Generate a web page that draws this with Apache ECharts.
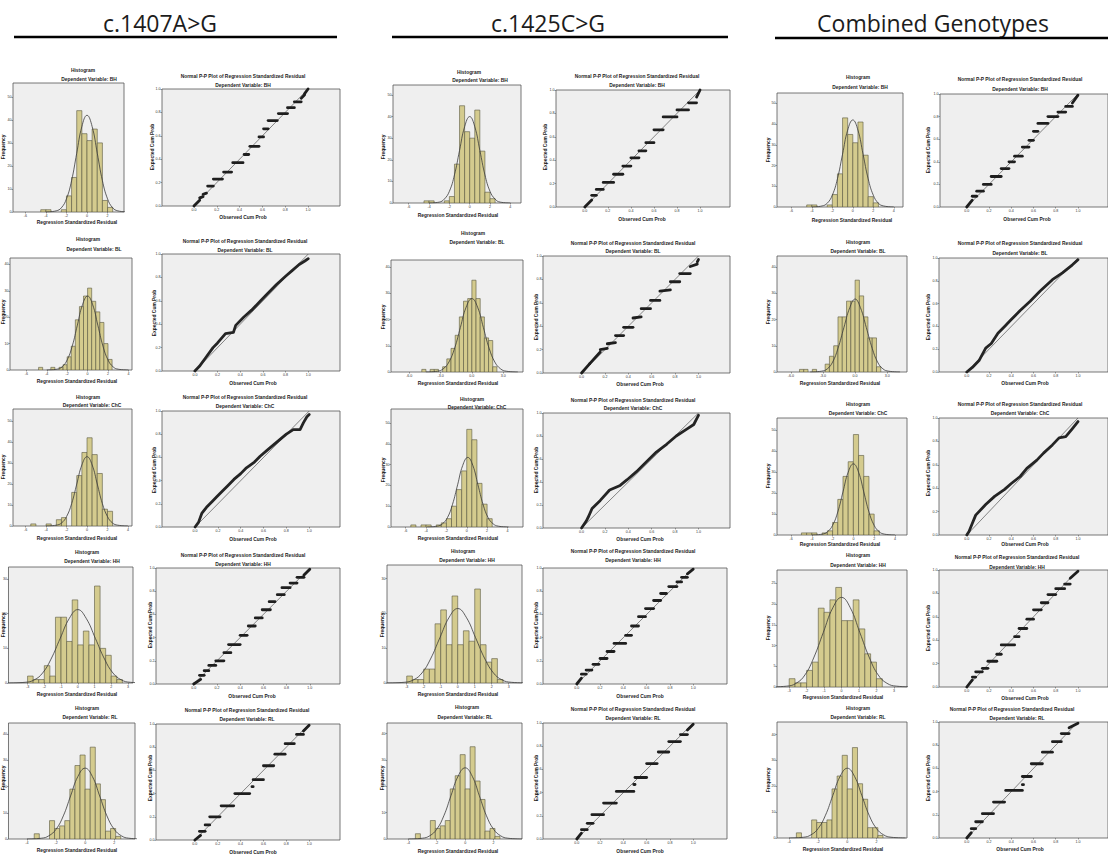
<!DOCTYPE html>
<html><head><meta charset="utf-8">
<script src="https://cdn.jsdelivr.net/npm/echarts@6/dist/echarts.min.js"></script>
<style>html,body{margin:0;padding:0;background:#fff}#c{width:1108px;height:857px}</style>
</head><body><div id="c"></div>
<script>
// ---------------- DATA ----------------
const headers = ['c.1407A>G', 'c.1425C>G', 'Combined Genotypes'];
const dvNames = ['BH', 'BL', 'ChC', 'HH', 'RL'];

// tick label sets
const resTicksA = [-6, -4, -2, 0, 2, 4];
const resTicksB = [-6, -3, 0, 3];
const resTicksC = [-3, -2, -1, 0, 1, 2, 3];
const resTicksD = [-4, -2, 0, 2];
const freqTicks50 = [0, 10, 20, 30, 40, 50];
const freqTicks40 = [0, 10, 20, 30, 40];
const freqTicks30 = [0, 10, 20, 30];
const freqTicks25 = [0, 5, 10, 15, 20, 25];
const probTicks = [0, 0.2, 0.4, 0.6, 0.8, 1.0];

// histogram bins: first bin edge, bin width, counts
const c1BHStart = -4.5, c1BHWidth = 0.5;
const c1BHCounts = [1, 1, 0, 0, 1, 7, 15, 44, 34, 31, 36, 30, 5, 2];
const c1BLStart = -4.8, c1BLWidth = 0.4;
const c1BLCounts = [1, 0, 0, 1, 0, 1, 2, 5, 9, 19, 24, 28, 31, 26, 22, 18, 10, 4];
const c1ChCStart = -5.5, c1ChCWidth = 0.5;
const c1ChCCounts = [1, 0, 0, 1, 0, 3, 4, 0, 16, 24, 35, 42, 34, 25, 8, 7];
const c1HHStart = -3, c1HHWidth = 0.3333;
const c1HHCounts = [2, 1, 1, 5, 2, 19, 19, 12, 24, 11, 15, 11, 28, 10, 8, 2, 1];
const c1RLStart = -3.5, c1RLWidth = 0.35;
const c1RLCounts = [2, 0, 0, 7, 4, 5, 7, 19, 28, 32, 19, 35, 21, 15, 3, 4, 1];

const c2BHStart = -4.5, c2BHWidth = 0.5;
const c2BHCounts = [1, 1, 0, 0, 1, 3, 18, 45, 33, 30, 43, 24, 5, 2];
const c2BLStart = -4.8, c2BLWidth = 0.4;
const c2BLCounts = [1, 0, 1, 1, 0, 2, 5, 9, 14, 21, 27, 28, 35, 28, 21, 13, 12, 2];
const c2ChCStart = -5.5, c2ChCWidth = 0.5;
const c2ChCCounts = [1, 0, 1, 1, 0, 1, 2, 4, 10, 18, 27, 47, 42, 21, 11, 4];
const c2HHStart = -3, c2HHWidth = 0.3333;
const c2HHCounts = [2, 1, 1, 4, 4, 17, 21, 11, 25, 11, 15, 12, 27, 11, 6, 7, 1];
const c2RLStart = -3.5, c2RLWidth = 0.35;
const c2RLCounts = [2, 0, 0, 7, 4, 5, 7, 19, 24, 32, 19, 35, 22, 15, 3, 4, 1];

const c3BHStart = -4.5, c3BHWidth = 0.5;
const c3BHCounts = [1, 1, 0, 0, 1, 6, 16, 43, 35, 31, 41, 25, 5, 2];
const c3BLStart = -5.2, c3BLWidth = 0.4;
const c3BLCounts = [1, 1, 0, 1, 0, 0, 3, 6, 10, 21, 21, 27, 27, 35, 29, 21, 13, 13, 2];
const c3ChCStart = -5, c3ChCWidth = 0.5;
const c3ChCCounts = [1, 1, 1, 0, 1, 2, 6, 17, 28, 35, 48, 38, 28, 10, 2];
const c3HHStart = -3, c3HHWidth = 0.3333;
const c3HHCounts = [2, 1, 1, 4, 6, 19, 18, 21, 24, 16, 16, 21, 14, 8, 6, 2];
const c3RLStart = -3.5, c3RLWidth = 0.35;
const c3RLCounts = [2, 0, 0, 7, 6, 6, 7, 19, 24, 32, 19, 35, 21, 15, 4, 4, 1];

// normal curve drawn over each histogram: x positions and heights
const curveX = [-4, -3, -2.5, -2, -1.5, -1, -0.5, 0, 0.5, 1, 1.5, 2, 2.5, 3, 4];
const curveXWide = [-4.2, -3.15, -2.6, -2.1, -1.6, -1.05, -0.5, 0, 0.5, 1.05, 1.6, 2.1, 2.6, 3.15, 4.2];
const curveXBL2 = [-4.4, -3.3, -2.75, -2.2, -1.65, -1.1, -0.55, 0, 0.55, 1.1, 1.65, 2.2, 2.75, 3.3, 4.4];
const curveXChC2 = [-3.9, -2.9, -2.4, -1.9, -1.4, -0.9, -0.4, 0.1, 0.6, 1.1, 1.6, 2.1, 2.6, 3.1, 4.1];
const c1BHCurve = [0, 0.5, 1.8, 5.7, 13.6, 25.5, 37.1, 42, 37.1, 25.5, 13.6, 5.7, 1.8, 0.5, 0];
const c1BLCurve = [0, 0.3, 1.2, 3.8, 9.1, 17, 24.7, 28, 24.7, 17, 9.1, 3.8, 1.2, 0.3, 0];
const c1ChCCurve = [0, 0.4, 1.4, 4.5, 10.7, 20, 29.1, 33, 29.1, 20, 10.7, 4.5, 1.4, 0.4, 0];
const c1HHCurve = [0, 0.2, 0.9, 2.9, 6.9, 12.9, 18.7, 21.2, 18.7, 12.9, 6.9, 2.9, 0.9, 0.2, 0];
const c1RLCurve = [0, 0.3, 1.2, 3.7, 8.8, 16.4, 23.8, 27, 23.8, 16.4, 8.8, 3.7, 1.2, 0.3, 0];
const c2BHCurve = [0, 0.4, 1.8, 5.4, 13, 24.3, 35.3, 40, 35.3, 24.3, 13, 5.4, 1.8, 0.4, 0];
const c2BLCurve = [0, 0.3, 1.2, 3.8, 9.1, 17, 24.7, 28, 24.7, 17, 9.1, 3.8, 1.2, 0.3, 0];
const c2ChCCurve = [0, 0.4, 1.5, 4.5, 10.9, 20.3, 29.6, 33.5, 29.6, 20.3, 10.9, 4.5, 1.5, 0.4, 0];
const c2HHCurve = [0, 0.2, 0.9, 2.9, 6.9, 13, 18.9, 21.4, 18.9, 13, 6.9, 2.9, 0.9, 0.2, 0];
const c2RLCurve = [0, 0.3, 1.2, 3.7, 8.8, 16.4, 23.8, 27, 23.8, 16.4, 8.8, 3.7, 1.2, 0.3, 0];
const c3BHCurve = [0, 0.5, 1.8, 5.7, 13.6, 25.5, 37.1, 42, 37.1, 25.5, 13.6, 5.7, 1.8, 0.5, 0];
const c3BLCurve = [0, 0.3, 1.2, 3.8, 9, 16.9, 24.5, 27.8, 24.5, 16.9, 9, 3.8, 1.2, 0.3, 0];
const c3ChCCurve = [0, 0.4, 1.5, 4.6, 11, 20.6, 30, 34, 30, 20.6, 11, 4.6, 1.5, 0.4, 0];
const c3HHCurve = [0, 0.2, 0.9, 2.9, 7, 13.1, 19.1, 21.6, 19.1, 13.1, 7, 2.9, 0.9, 0.2, 0];
const c3RLCurve = [0, 0.3, 1.2, 3.7, 8.8, 16.4, 23.8, 27, 23.8, 16.4, 8.8, 3.7, 1.2, 0.3, 0];

// P-P plots: runs of tied points [obsStart, expStart, obsEnd, expEnd]
const c1BHPP = [[0,0,0.05,0.05],[0.05,0.07,0.08,0.08],[0.08,0.1,0.11,0.11],[0.12,0.17,0.17,0.17],[0.17,0.23,0.25,0.23],[0.26,0.29,0.33,0.29],[0.34,0.37,0.43,0.37],[0.44,0.44,0.48,0.44],[0.49,0.51,0.57,0.51],[0.57,0.59,0.61,0.59],[0.61,0.66,0.65,0.66],[0.65,0.73,0.73,0.73],[0.74,0.79,0.82,0.79],[0.82,0.84,0.88,0.84],[0.88,0.89,0.94,0.89],[0.94,0.92,0.97,0.95],[0.97,0.96,1.0,1.0]];
const c1HHPP = [[0,0,0.06,0.04],[0.05,0.075,0.09,0.075],[0.09,0.115,0.13,0.115],[0.13,0.16,0.19,0.16],[0.19,0.2,0.26,0.2],[0.26,0.27,0.32,0.27],[0.3,0.34,0.4,0.34],[0.4,0.42,0.46,0.42],[0.47,0.5,0.53,0.5],[0.53,0.57,0.59,0.57],[0.59,0.64,0.66,0.64],[0.65,0.71,0.7,0.71],[0.72,0.77,0.78,0.77],[0.76,0.83,0.83,0.83],[0.83,0.87,0.89,0.87],[0.89,0.92,0.95,0.92],[0.95,0.94,1.0,0.99]];
const c1RLPP = [[0,0,0.05,0.04],[0.04,0.075,0.09,0.075],[0.09,0.13,0.13,0.13],[0.13,0.2,0.22,0.2],[0.23,0.295,0.34,0.295],[0.35,0.4,0.48,0.4],[0.5,0.46,0.51,0.46],[0.51,0.52,0.6,0.52],[0.6,0.64,0.69,0.64],[0.7,0.74,0.79,0.74],[0.79,0.83,0.87,0.83],[0.89,0.91,0.95,0.91],[0.95,0.94,1.0,0.99]];
const c2BHPP = [[0,0,0.06,0.06],[0.06,0.1,0.1,0.1],[0.1,0.15,0.16,0.15],[0.16,0.21,0.25,0.21],[0.25,0.28,0.33,0.28],[0.33,0.35,0.4,0.35],[0.4,0.42,0.47,0.42],[0.47,0.48,0.53,0.48],[0.53,0.55,0.6,0.55],[0.6,0.66,0.68,0.66],[0.68,0.77,0.8,0.77],[0.8,0.83,0.9,0.83],[0.9,0.89,0.97,0.89],[0.97,0.94,1.0,1.0]];
const c2BLPP = [[0,0,0.07,0.08],[0.07,0.08,0.16,0.18],[0.16,0.2,0.22,0.21],[0.22,0.25,0.29,0.26],[0.29,0.32,0.36,0.32],[0.36,0.39,0.44,0.39],[0.44,0.47,0.51,0.48],[0.51,0.55,0.59,0.55],[0.59,0.62,0.67,0.62],[0.67,0.7,0.76,0.71],[0.76,0.78,0.84,0.78],[0.84,0.85,0.93,0.85],[0.93,0.91,0.99,0.93],[0.99,0.95,1.0,0.97]];
const c2HHPP = [[0,0,0.04,0.05],[0.04,0.085,0.08,0.085],[0.08,0.12,0.13,0.12],[0.14,0.17,0.19,0.17],[0.2,0.22,0.26,0.22],[0.26,0.28,0.32,0.28],[0.32,0.35,0.42,0.35],[0.42,0.42,0.47,0.42],[0.47,0.5,0.53,0.5],[0.53,0.58,0.59,0.58],[0.59,0.65,0.66,0.65],[0.66,0.72,0.72,0.72],[0.72,0.78,0.77,0.78],[0.79,0.84,0.86,0.84],[0.86,0.88,0.9,0.88],[0.9,0.92,0.95,0.92],[0.95,0.95,1.0,0.99]];
const c2RLPP = [[0,0,0.04,0.05],[0.04,0.08,0.09,0.08],[0.09,0.135,0.14,0.135],[0.13,0.21,0.23,0.21],[0.23,0.31,0.34,0.31],[0.34,0.41,0.49,0.41],[0.49,0.47,0.5,0.47],[0.5,0.53,0.6,0.53],[0.6,0.65,0.69,0.65],[0.7,0.75,0.79,0.75],[0.79,0.84,0.89,0.84],[0.89,0.9,0.95,0.9],[0.95,0.94,1.0,0.99]];
const c3BHPP = [[0,0,0.05,0.06],[0.05,0.095,0.09,0.095],[0.09,0.14,0.15,0.14],[0.15,0.2,0.22,0.2],[0.22,0.27,0.31,0.27],[0.31,0.34,0.38,0.34],[0.38,0.4,0.43,0.4],[0.43,0.45,0.5,0.45],[0.5,0.53,0.56,0.53],[0.56,0.59,0.6,0.59],[0.6,0.67,0.64,0.67],[0.64,0.74,0.73,0.74],[0.73,0.8,0.82,0.8],[0.82,0.84,0.89,0.84],[0.89,0.89,0.95,0.89],[0.95,0.92,1.0,0.99]];
const c3HHPP = [[0,0,0.05,0.06],[0.05,0.085,0.08,0.085],[0.08,0.13,0.14,0.13],[0.14,0.16,0.19,0.16],[0.19,0.22,0.27,0.22],[0.27,0.28,0.31,0.28],[0.31,0.36,0.43,0.36],[0.43,0.43,0.47,0.43],[0.47,0.5,0.54,0.5],[0.54,0.58,0.6,0.58],[0.6,0.66,0.67,0.66],[0.67,0.72,0.73,0.72],[0.73,0.79,0.8,0.79],[0.8,0.84,0.88,0.84],[0.88,0.88,0.93,0.88],[0.93,0.93,1.0,0.99]];
const c3RLPP = [[0,0,0.04,0.045],[0.04,0.08,0.08,0.08],[0.08,0.14,0.14,0.14],[0.14,0.21,0.24,0.21],[0.24,0.31,0.34,0.31],[0.35,0.41,0.5,0.41],[0.5,0.46,0.51,0.46],[0.5,0.53,0.58,0.53],[0.58,0.64,0.68,0.64],[0.68,0.74,0.77,0.74],[0.77,0.83,0.85,0.83],[0.85,0.9,0.92,0.9],[0.92,0.95,1.0,0.99]];
// P-P plots with a continuous point cloud: points along the cloud [obs, exp]
const c1BLPath = [[0,0],[0.04,0.04],[0.1,0.12],[0.16,0.2],[0.2,0.24],[0.27,0.32],[0.34,0.33],[0.36,0.39],[0.43,0.46],[0.5,0.52],[0.58,0.6],[0.64,0.66],[0.72,0.74],[0.8,0.81],[0.86,0.86],[0.92,0.91],[0.97,0.94],[1.0,0.96]];
const c1ChCPath = [[0,0],[0.03,0.04],[0.06,0.12],[0.1,0.17],[0.15,0.22],[0.19,0.26],[0.24,0.31],[0.28,0.35],[0.34,0.41],[0.4,0.46],[0.45,0.51],[0.52,0.56],[0.57,0.61],[0.63,0.66],[0.69,0.71],[0.75,0.76],[0.8,0.8],[0.86,0.84],[0.92,0.84],[0.95,0.9],[0.98,0.95],[1.0,0.97]];
const c2ChCPath = [[0,0],[0.04,0.06],[0.06,0.1],[0.09,0.17],[0.16,0.24],[0.24,0.33],[0.33,0.37],[0.39,0.42],[0.47,0.49],[0.56,0.58],[0.64,0.66],[0.73,0.73],[0.81,0.8],[0.9,0.86],[0.96,0.9],[0.99,0.96],[1.0,0.98]];
const c3BLPath = [[0,0],[0.05,0.04],[0.11,0.1],[0.17,0.21],[0.22,0.25],[0.28,0.34],[0.34,0.4],[0.4,0.46],[0.48,0.54],[0.57,0.62],[0.66,0.71],[0.77,0.81],[0.86,0.87],[0.95,0.94],[1.0,0.985]];
const c3ChCPath = [[0,0],[0.02,0.03],[0.05,0.1],[0.08,0.17],[0.17,0.26],[0.25,0.33],[0.34,0.39],[0.4,0.44],[0.48,0.5],[0.54,0.57],[0.63,0.64],[0.69,0.7],[0.77,0.77],[0.83,0.83],[0.89,0.84],[0.95,0.91],[1.0,0.97]];
const diagLine = [[0, 0], [1, 1]];

// ---------------- TABLES built from the data ----------------
const histData = [
  [[c1BHStart,c1BHWidth,c1BHCounts,curveX,c1BHCurve],[c1BLStart,c1BLWidth,c1BLCounts,curveX,c1BLCurve],[c1ChCStart,c1ChCWidth,c1ChCCounts,curveX,c1ChCCurve],[c1HHStart,c1HHWidth,c1HHCounts,curveXWide,c1HHCurve],[c1RLStart,c1RLWidth,c1RLCounts,curveX,c1RLCurve]],
  [[c2BHStart,c2BHWidth,c2BHCounts,curveX,c2BHCurve],[c2BLStart,c2BLWidth,c2BLCounts,curveXBL2,c2BLCurve],[c2ChCStart,c2ChCWidth,c2ChCCounts,curveXChC2,c2ChCCurve],[c2HHStart,c2HHWidth,c2HHCounts,curveXWide,c2HHCurve],[c2RLStart,c2RLWidth,c2RLCounts,curveX,c2RLCurve]],
  [[c3BHStart,c3BHWidth,c3BHCounts,curveX,c3BHCurve],[c3BLStart,c3BLWidth,c3BLCounts,curveXWide,c3BLCurve],[c3ChCStart,c3ChCWidth,c3ChCCounts,curveX,c3ChCCurve],[c3HHStart,c3HHWidth,c3HHCounts,curveXWide,c3HHCurve],[c3RLStart,c3RLWidth,c3RLCounts,curveX,c3RLCurve]]
];
const ppData = [
  [['steps',c1BHPP],['path',c1BLPath],['path',c1ChCPath],['steps',c1HHPP],['steps',c1RLPP]],
  [['steps',c2BHPP],['steps',c2BLPP],['path',c2ChCPath],['steps',c2HHPP],['steps',c2RLPP]],
  [['steps',c3BHPP],['path',c3BLPath],['path',c3ChCPath],['steps',c3HHPP],['steps',c3RLPP]]
];
const histXTicks = [[resTicksA,resTicksA,resTicksA,resTicksC,resTicksD],[resTicksA,resTicksB,resTicksA,resTicksC,resTicksD],[resTicksA,resTicksB,resTicksA,resTicksC,resTicksD]];
const histXDigits = [[0,0,0,0,0],[0,1,0,0,0],[0,1,0,0,0]];
const histYTicks = [[freqTicks50,freqTicks40,freqTicks50,freqTicks30,freqTicks40],[freqTicks50,freqTicks40,freqTicks50,freqTicks30,freqTicks40],[freqTicks50,freqTicks40,freqTicks50,freqTicks25,freqTicks40]];
const histXRange = [
  [[-7.2,3.6],[-7.6,4.35],[-7.24,4.4],[-4.14,3.3],[-5.27,3.43]],
  [[-7.55,5.05],[-7.75,4.9],[-7.45,5.53],[-4.16,3.78],[-5.5,4.0]],
  [[-7.4,4.9],[-7.3,4.85],[-7.35,5.16],[-3.7,3.75],[-4.83,4.1]]
];
const histYMax = [[56,42.4,55.7,33.5,44.2],[54.6,42.7,56.8,33.9,44],[55,44.2,55.9,28.2,44.9]];
const ppXRange = [
  [[-0.28,1.28],[-0.29,1.28],[-0.29,1.27],[-0.325,1.26],[-0.34,1.27]],
  [[-0.25,1.26],[-0.33,1.27],[-0.33,1.27],[-0.29,1.29],[-0.29,1.29]],
  [[-0.24,1.27],[-0.25,1.27],[-0.25,1.27],[-0.25,1.27],[-0.25,1.27]]
];

// ---------------- LAYOUT (pixels) ----------------
const headerPos = [[160,23,14,337,37],[548,23,392,728,37],[933,23,775,1108,38]];
const histBoxes = [
  [[13,83,111,129],[10,258,122,112],[13,409,119,117],[7,567,126,116],[7,723,128,116]],
  [[393,85,128,118],[391,260,132,112],[391,409,132,118],[387,565,135,118],[387,723,135,116]],
  [[777,93,126,114],[777,256,130,116],[777,418,130,117],[777,570,130,117],[777,722,130,116]]
];
const histText = [
  [[83,70,89,79,77,222,3,147],[88,239,94,249,77,381,3,312],[88,397,92,405,77,538,3,467],[87,552,92,561,77,694,3,625],[87,708,90,717,77,850,3,778]],
  [[469,72,480,80,458,215,383,147],[473,233,477,242,458,383,383,317],[472,399,477,407,458,538,383,470],[463,551,467,560,458,694,382,625],[467,707,465,717,458,851,382,778]],
  [[858,77,860,87,852,220,768,150],[858,242,858,251,840,383,768,312],[858,404,858,413,840,544,768,476],[858,555,858,565,843,697,768,628],[858,708,858,717,843,849,768,780]]
];
const ppBoxes = [
  [[162,89,178,117],[162,254,178,117],[162,411,178,116],[156,568,184,116],[156,724,184,116]],
  [[556,90,174,117],[543,256,187,117],[543,413,187,115],[543,568,184,116],[543,723,184,116]],
  [[940,94,174,113],[939,258,175,114],[939,418,175,117],[939,570,175,117],[939,722,175,116]]
];
const ppText = [
  [[243,76,243,85,243,217,152,147],[245,241,245,250,253,383,154,313],[245,397,245,406,253,539,154,470],[243,555,243,564,252,696,150,625],[247,710,247,719,253,852,150,778]],
  [[637,76,637,85,642,219,545,147],[633,243,633,251,640,384,536,317],[633,400,633,408,640,539,536,470],[633,551,633,560,640,696,536,625],[633,709,633,718,640,851,536,778]],
  [[1020,79,1020,89,1027,219,928,150],[1020,243,1020,253,1025,383,928,317],[1020,404,1020,413,1025,544,928,473],[1017,557,1017,567,1025,698,928,628],[1012,709,1017,718,1020,849,928,778]]
];

// ---------------- BUILD ----------------
const SMALL = '"Liberation Sans", Arial, sans-serif';
const grids = [], xAxes = [], yAxes = [], series = [], graphics = [];

function addText(text, x, y, font, rot) {
  graphics.push({
    type: 'text', x: x, y: y, rotation: rot || 0, silent: true,
    style: { text: text, font: font, fill: '#1c1c1c', align: 'center', verticalAlign: 'middle', textAlign: 'center', textVerticalAlign: 'middle' }
  });
}

function axisCommon(min, max, ticks, digits, pos) {
  return {
    type: 'value', min: min, max: max, position: pos,
    axisLine: { show: false, onZero: false }, splitLine: { show: false },
    axisTick: { show: true, length: 1.5, customValues: ticks, lineStyle: { color: '#444', width: 0.5 } },
    axisLabel: { fontSize: 3.6, margin: 1.5, color: '#333', fontFamily: SMALL, customValues: ticks,
      formatter: function (v) { return Number(v).toFixed(digits); } }
  };
}

function addGrid(box) {
  grids.push({ left: box[0], top: box[1], width: box[2], height: box[3], show: true,
    backgroundColor: '#efefef', borderColor: '#555', borderWidth: 0.8, containLabel: false });
  return grids.length - 1;
}

const barRender = function (params, api) {
  const a = api.coord([api.value(0), api.value(2)]);
  const b = api.coord([api.value(1), 0]);
  return { type: 'rect', shape: { x: a[0], y: a[1], width: b[0] - a[0], height: b[1] - a[1] },
    style: { fill: '#d4cb8e', stroke: '#59583f', lineWidth: 0.6 } };
};
const segRender = function (params, api) {
  const a = api.coord([api.value(0), api.value(1)]);
  const b = api.coord([api.value(2), api.value(3)]);
  return { type: 'line', shape: { x1: a[0], y1: a[1], x2: b[0], y2: b[1] },
    style: { stroke: '#1e1e1e', lineWidth: 2.8, lineCap: 'round' } };
};

const TITLE = 'bold 4.9px ' + SMALL;

for (let c = 0; c < 3; c++) {
  const hp = headerPos[c];
  addText(headers[c], hp[0], hp[1], '23px "Open Sans", sans-serif', 0);
  graphics.push({ type: 'line', silent: true, shape: { x1: hp[2], y1: hp[4], x2: hp[3], y2: hp[4] }, style: { stroke: '#000', lineWidth: 2.6 } });

  for (let r = 0; r < 5; r++) {
    // ---- histogram ----
    const hd = histData[c][r];
    const gi = addGrid(histBoxes[c][r]);
    const xr = histXRange[c][r];
    xAxes.push(Object.assign(axisCommon(xr[0], xr[1], histXTicks[c][r], histXDigits[c][r], 'bottom'), { gridIndex: gi }));
    yAxes.push(Object.assign(axisCommon(0, histYMax[c][r], histYTicks[c][r], 0, 'left'), { gridIndex: gi }));
    const bins = [];
    hd[2].forEach(function (cnt, i) {
      if (cnt > 0) bins.push([hd[0] + i * hd[1], hd[0] + (i + 1) * hd[1], cnt]);
    });
    series.push({ type: 'custom', xAxisIndex: gi, yAxisIndex: gi, renderItem: barRender, data: bins,
      encode: { x: [0, 1], y: 2 }, silent: true, clip: true });
    series.push({ type: 'line', xAxisIndex: gi, yAxisIndex: gi, data: hd[3].map(function (x, i) { return [x, hd[4][i]]; }),
      smooth: 0.45, symbol: 'none', silent: true, z: 5, lineStyle: { color: '#3a3a3a', width: 0.8 } });
    const ht = histText[c][r];
    addText('Histogram', ht[0], ht[1], TITLE);
    addText('Dependent Variable: ' + dvNames[r], ht[2], ht[3], TITLE);
    addText('Regression Standardized Residual', ht[4], ht[5], TITLE);
    addText('Frequency', ht[6], ht[7], TITLE, Math.PI / 2);

    // ---- P-P plot ----
    const pd = ppData[c][r];
    const gj = addGrid(ppBoxes[c][r]);
    const pr = ppXRange[c][r];
    xAxes.push(Object.assign(axisCommon(pr[0], pr[1], probTicks, 1, 'bottom'), { gridIndex: gj }));
    yAxes.push(Object.assign(axisCommon(0, 1, probTicks, 1, 'left'), { gridIndex: gj }));
    series.push({ type: 'line', xAxisIndex: gj, yAxisIndex: gj, data: diagLine, symbol: 'none', silent: true, z: 2,
      lineStyle: { color: '#555', width: 0.7 } });
    if (pd[0] === 'steps') {
      series.push({ type: 'custom', xAxisIndex: gj, yAxisIndex: gj, renderItem: segRender, data: pd[1],
        encode: { x: [0, 2], y: [1, 3] }, silent: true, z: 4 });
    } else {
      series.push({ type: 'line', xAxisIndex: gj, yAxisIndex: gj, data: pd[1], symbol: 'none', silent: true, z: 4,
        lineStyle: { color: '#242424', width: 2.8, cap: 'round', join: 'round' } });
    }
    const pt = ppText[c][r];
    addText('Normal P-P Plot of Regression Standardized Residual', pt[0], pt[1], TITLE);
    addText('Dependent Variable: ' + dvNames[r], pt[2], pt[3], TITLE);
    addText('Observed Cum Prob', pt[4], pt[5], TITLE);
    addText('Expected Cum Prob', pt[6], pt[7], TITLE, Math.PI / 2);
  }
}

const chart = echarts.init(document.getElementById('c'), null, { renderer: 'svg', width: 1108, height: 857 });
chart.setOption({
  animation: false,
  backgroundColor: '#ffffff',
  grid: grids, xAxis: xAxes, yAxis: yAxes, series: series,
  graphic: { elements: graphics }
});
</script></body></html>
